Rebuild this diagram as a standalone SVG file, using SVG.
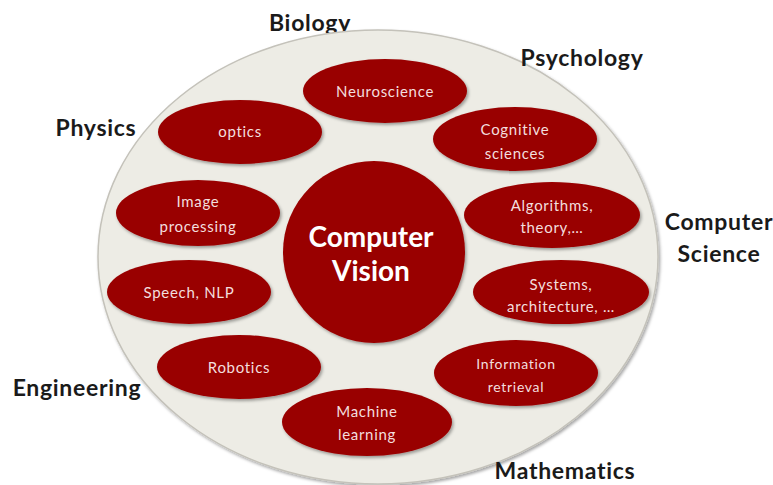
<svg xmlns="http://www.w3.org/2000/svg" width="773" height="485" viewBox="0 0 773 485">
<defs>
<filter id="sh" x="-20%" y="-20%" width="140%" height="140%">
<feDropShadow dx="1.5" dy="2" stdDeviation="1.5" flood-color="#000" flood-opacity="0.35"/>
</filter>
<style>
.cat{font-family:Lato,"Liberation Sans",sans-serif;font-weight:bold;font-size:23px;letter-spacing:0.7px;fill:#1a1a1a;text-anchor:middle}
.node ellipse,.node circle{fill:#990303;filter:url(#sh)}
.lbl{font-family:Lato,"Liberation Sans",sans-serif;font-size:15px;letter-spacing:0.7px;fill:#f3dede;text-anchor:middle}
.big{font-family:Lato,"Liberation Sans",sans-serif;font-weight:bold;font-size:28px;fill:#ffffff;text-anchor:middle}
</style>
</defs>
<rect width="773" height="485" fill="#ffffff"/>
<text class="cat" x="310" y="31">Biology</text>
<g id="field">
<ellipse cx="378" cy="257" rx="280" ry="227" fill="#edece5" stroke="#c4c2ba" stroke-width="1.5" filter="url(#sh)"/>
</g>
<g id="categories">
<text class="cat" x="582" y="66">Psychology</text>
<text class="cat" x="96" y="136">Physics</text>
<text class="cat" x="719" y="230">Computer</text>
<text class="cat" x="719" y="262">Science</text>
<text class="cat" x="77" y="396">Engineering</text>
<text class="cat" x="565" y="479">Mathematics</text>
</g>
<g id="connectors"/>
<g id="center" class="node">
<circle cx="374" cy="252" r="91"/>
<text class="big" x="371" y="247">Computer</text>
<text class="big" x="371" y="281">Vision</text>
</g>
<g id="neuroscience" class="node">
<ellipse cx="385" cy="91" rx="82" ry="32"/>
<text class="lbl" x="385" y="97">Neuroscience</text>
</g>
<g id="optics" class="node">
<ellipse cx="240" cy="132" rx="82" ry="32"/>
<text class="lbl" x="240" y="137">optics</text>
</g>
<g id="image-processing" class="node">
<ellipse cx="198" cy="213" rx="82" ry="33"/>
<text class="lbl" x="198" y="207">Image</text>
<text class="lbl" x="198" y="232">processing</text>
</g>
<g id="speech-nlp" class="node">
<ellipse cx="189" cy="292" rx="82" ry="32"/>
<text class="lbl" x="189" y="298">Speech, NLP</text>
</g>
<g id="robotics" class="node">
<ellipse cx="239" cy="367" rx="82" ry="32"/>
<text class="lbl" x="239" y="373">Robotics</text>
</g>
<g id="machine-learning" class="node">
<ellipse cx="367" cy="422" rx="85" ry="34"/>
<text class="lbl" x="367" y="417">Machine</text>
<text class="lbl" x="367" y="440">learning</text>
</g>
<g id="information-retrieval" class="node">
<ellipse cx="516" cy="373" rx="82" ry="33"/>
<text class="lbl" x="516" y="369" style="font-size:14px">Information</text>
<text class="lbl" x="516" y="392" style="font-size:14px">retrieval</text>
</g>
<g id="systems" class="node">
<ellipse cx="561" cy="292" rx="88" ry="32"/>
<text class="lbl" x="561" y="290">Systems,</text>
<text class="lbl" x="561" y="312">architecture, …</text>
</g>
<g id="algorithms" class="node">
<ellipse cx="552" cy="215" rx="88" ry="33"/>
<text class="lbl" x="552" y="211">Algorithms,</text>
<text class="lbl" x="552" y="233">theory,…</text>
</g>
<g id="cognitive" class="node">
<ellipse cx="515" cy="139" rx="82" ry="32"/>
<text class="lbl" x="515" y="135">Cognitive</text>
<text class="lbl" x="515" y="159">sciences</text>
</g>
</svg>
